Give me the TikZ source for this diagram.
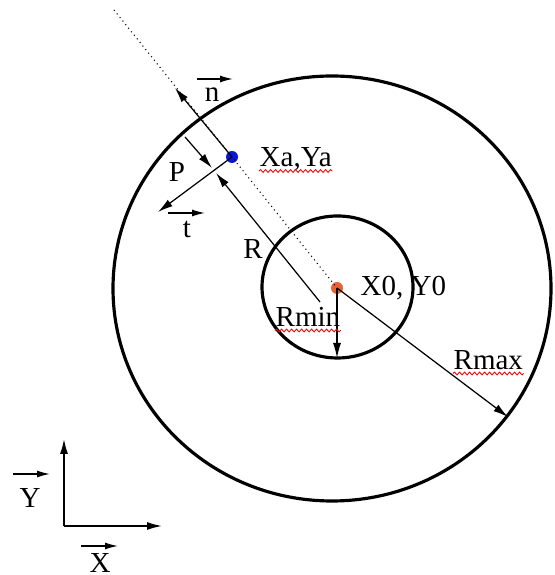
\documentclass[tikz,border=0pt]{standalone}
\usepackage{fontspec}
\setmainfont{Liberation Serif}
\usetikzlibrary{arrows.meta,decorations.pathmorphing}
\definecolor{centredot}{RGB}{232,98,52}
\definecolor{pointdot}{RGB}{10,20,220}
\begin{document}
\begin{tikzpicture}[
    lbl/.style={font=\fontsize{8.25}{10}\selectfont, inner sep=0pt, anchor=base},
    ring/.style={line width=0.9pt},
    arr/.style={line width=0.35pt, -{Latex[length=1.5mm,width=0.8mm]}},
    vec/.style={line width=0.4pt, -{Latex[length=1.3mm,width=0.7mm]}},
    axis/.style={line width=0.45pt, -{Latex[length=1.5mm,width=0.8mm]}},
    spell/.style={red, line width=0.25pt, decorate,
        decoration={snake, amplitude=0.14mm, segment length=0.5mm}}
]
    \useasboundingbox (0,0) rectangle (5.54,5.75);
    % circles
    \draw[ring] (3.32,2.865) ellipse [x radius=2.19, y radius=2.125];
    \draw[ring] (3.375,2.88) ellipse [x radius=0.755, y radius=0.71];
    % points and helper coordinates
    \coordinate (top) at (1.14,5.65);
    \coordinate (nend) at (1.75,4.87);
    \coordinate (tend) at (1.58,3.63);
    \coordinate (rstart) at (3.20,2.73);
    \coordinate (rend) at (2.16,4.02);
    \coordinate (pstart) at (1.85,4.38);
    \coordinate (pend) at (2.12,4.07);
    \coordinate (rmaxend) at (5.08,1.58);
    \coordinate (rminend) at (3.37,2.17);
    \node[circle, fill=pointdot, inner sep=0pt, minimum size=0.12cm] (a) at (2.32,4.18) {};
    \node[circle, fill=centredot, inner sep=0pt, minimum size=0.12cm] (o) at (3.37,2.87) {};
    % dotted normal line
    \draw[densely dotted, line width=0.3pt] (top) -- (a.center) -- (o.center);
    % vectors
    \draw[arr] (a.center) -- (nend);
    \draw[arr] (a.center) -- (tend);
    \draw[arr] (rstart) -- (rend);
    \draw[arr] (pstart) -- (pend);
    \draw[arr] (o.center) -- (rmaxend);
    \draw[arr] (o.center) -- (rminend);
    % labels
    \node[lbl] (nlab) at (2.12,4.73) {n};
    \draw[vec] ([shift={(-0.15,0.23)}]nlab.base) -- ([shift={(0.21,0.23)}]nlab.base);
    \node[lbl] (plab) at (1.77,3.93) {P};
    \node[lbl] (tlab) at (1.87,3.37) {t};
    \draw[vec] ([shift={(-0.19,0.25)}]tlab.base) -- ([shift={(0.18,0.25)}]tlab.base);
    \node[lbl, anchor=base west] (alab) at (2.59,4.08) {Xa,Ya};
    \node[lbl] (rlab) at (2.53,3.16) {R};
    \node[lbl, anchor=base west] (olab) at (3.60,2.79) {X0, Y0};
    \node[lbl, anchor=base west] (rminlab) at (2.75,2.48) {Rmin};
    \node[lbl, anchor=base west] (rmaxlab) at (4.53,2.05) {Rmax};
    \draw[spell] ([yshift=-0.04cm]alab.base west) -- ([yshift=-0.04cm]alab.base east);
    \draw[spell] ([yshift=-0.035cm]rminlab.base west) -- ([yshift=-0.035cm]rminlab.base east);
    \draw[spell] ([yshift=-0.035cm]rmaxlab.base west) -- ([yshift=-0.035cm]rmaxlab.base east);
    % axes
    \coordinate (orig) at (0.64,0.49);
    \coordinate (ytip) at (0.64,1.36);
    \coordinate (xtip) at (1.62,0.49);
    \draw[axis] (orig) -- (ytip);
    \draw[axis] (orig) -- (xtip);
    \node[lbl] (ylab) at (0.30,0.67) {Y};
    \draw[vec] ([shift={(-0.17,0.34)}]ylab.base) -- ([shift={(0.20,0.34)}]ylab.base);
    \node[lbl] (xlab) at (1.00,0.03) {X};
    \draw[vec] ([shift={(-0.19,0.26)}]xlab.base) -- ([shift={(0.18,0.26)}]xlab.base);
\end{tikzpicture}
\end{document}
